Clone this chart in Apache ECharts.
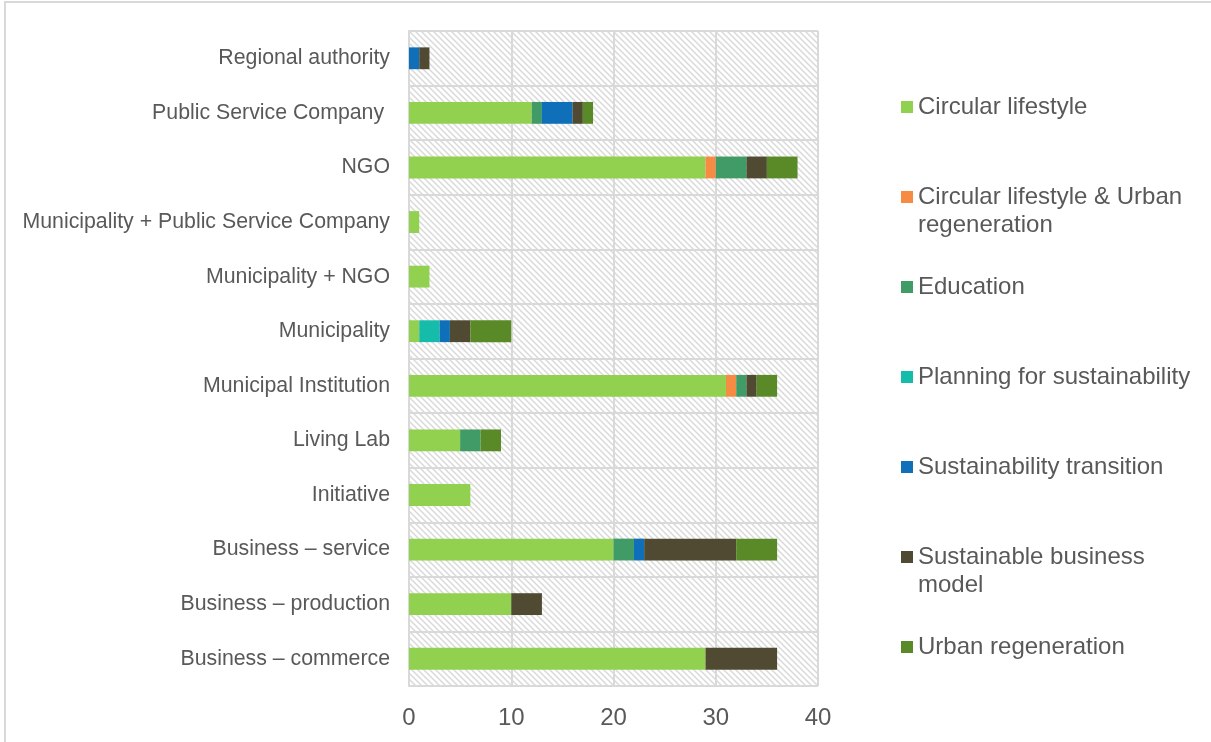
<!DOCTYPE html>
<html>
<head>
<meta charset="utf-8">
<script src="https://cdn.jsdelivr.net/npm/echarts@6/dist/echarts.min.js"></script>
<style>
  html, body { margin: 0; padding: 0; background: #ffffff; }
  #chart { width: 1211px; height: 742px; }
</style>
</head>
<body>
<div id="chart"></div>
<script>
// Organisation types (bottom to top)
const categories = [
  'Business – commerce',
  'Business – production',
  'Business – service',
  'Initiative',
  'Living Lab',
  'Municipal Institution',
  'Municipality',
  'Municipality + NGO',
  'Municipality + Public Service Company',
  'NGO',
  'Public Service Company ',
  'Regional authority'
];

// Number of cases per theme, aligned with categories
const circularLifestyle       = [29, 10, 20, 6, 5, 31, 1, 2, 1, 29, 12, 0];
const circularUrban           = [0, 0, 0, 0, 0, 1, 0, 0, 0, 1, 0, 0];
const education               = [0, 0, 2, 0, 2, 1, 0, 0, 0, 3, 1, 0];
const planning                = [0, 0, 0, 0, 0, 0, 2, 0, 0, 0, 0, 0];
const sustainabilityTransition= [0, 0, 1, 0, 0, 0, 1, 0, 0, 0, 3, 1];
const businessModel           = [7, 3, 9, 0, 0, 1, 2, 0, 0, 2, 1, 1];
const urbanRegeneration       = [0, 0, 4, 0, 2, 2, 4, 0, 0, 3, 1, 0];

const seriesNames = [
  'Circular lifestyle',
  'Circular lifestyle & Urban regeneration',
  'Education',
  'Planning for sustainability',
  'Sustainability transition',
  'Sustainable business model',
  'Urban regeneration'
];
const seriesValues = [
  circularLifestyle, circularUrban, education, planning,
  sustainabilityTransition, businessModel, urbanRegeneration
];
const seriesColors = ['#92D050', '#F68B44', '#419B67', '#16BCAA', '#0F6FB8', '#504A33', '#598A27'];

// Legend text, wrapped where the label is too long for the column
const legendText = {
  'Circular lifestyle': 'Circular lifestyle',
  'Circular lifestyle & Urban regeneration': 'Circular lifestyle & Urban\nregeneration',
  'Education': 'Education',
  'Planning for sustainability': 'Planning for sustainability',
  'Sustainability transition': 'Sustainability transition',
  'Sustainable business model': 'Sustainable business\nmodel',
  'Urban regeneration': 'Urban regeneration'
};

const xTicks = { min: 0, max: 40, interval: 10 };

// Diagonal hatch tile for the plot background
function hatchTile() {
  const s = 6;
  const c = document.createElement('canvas');
  c.width = s; c.height = s;
  const g = c.getContext('2d');
  g.fillStyle = '#ffffff';
  g.fillRect(0, 0, s, s);
  g.strokeStyle = '#d9d9d9';
  g.lineWidth = 1.5;
  g.beginPath();
  g.moveTo(-1, -1); g.lineTo(s + 1, s + 1);
  g.moveTo(-1, s - 1); g.lineTo(1, s + 1);
  g.moveTo(s - 1, -1); g.lineTo(s + 1, 1);
  g.stroke();
  return c;
}

const FONT = '"Liberation Sans", Arial, sans-serif';
const TEXT = '#595959';
const GRID = '#D9D9D9';

const chart = echarts.init(document.getElementById('chart'), null, { renderer: 'canvas' });

chart.setOption({
  animation: false,
  backgroundColor: '#ffffff',
  textStyle: { fontFamily: FONT },
  graphic: [{
    type: 'rect',
    z: 100,
    silent: true,
    shape: { x: 5, y: 2, width: 1400, height: 900 },
    style: { fill: 'none', stroke: GRID, lineWidth: 2 }
  }],
  grid: {
    left: 409, right: 393, top: 31, bottom: 56,
    show: true,
    borderWidth: 0,
    backgroundColor: { image: hatchTile(), repeat: 'repeat' }
  },
  legend: {
    orient: 'vertical',
    left: 901,
    top: 65,
    padding: 0,
    itemGap: 6,
    itemWidth: 12,
    itemHeight: 12,
    icon: 'rect',
    data: seriesNames,
    formatter: function (name) {
      const t = legendText[name];
      // pad to three lines so the marker sits on the first line of text
      return t.indexOf('\n') >= 0 ? '\n' + t : '\n' + t + '\n';
    },
    textStyle: { fontFamily: FONT, fontSize: 24, color: TEXT, lineHeight: 28 }
  },
  xAxis: {
    type: 'value',
    min: xTicks.min, max: xTicks.max, interval: xTicks.interval,
    axisLine: { show: false },
    axisTick: { show: false },
    axisLabel: { color: TEXT, fontSize: 24, fontFamily: FONT, margin: 20 },
    splitLine: { show: true, lineStyle: { color: GRID, width: 2 } }
  },
  yAxis: {
    type: 'category',
    data: categories,
    axisLine: { show: true, lineStyle: { color: GRID, width: 2 } },
    axisTick: { show: false },
    axisLabel: { color: TEXT, fontSize: 21.3, fontFamily: FONT, margin: 19 },
    splitLine: { show: true, interval: 0, lineStyle: { color: GRID, width: 2 } }
  },
  series: seriesNames.map((name, i) => ({
    name: name,
    type: 'bar',
    stack: 'total',
    barWidth: '40%',
    data: seriesValues[i],
    itemStyle: { color: seriesColors[i] },
    emphasis: { disabled: true }
  }))
});
</script>
</body>
</html>
